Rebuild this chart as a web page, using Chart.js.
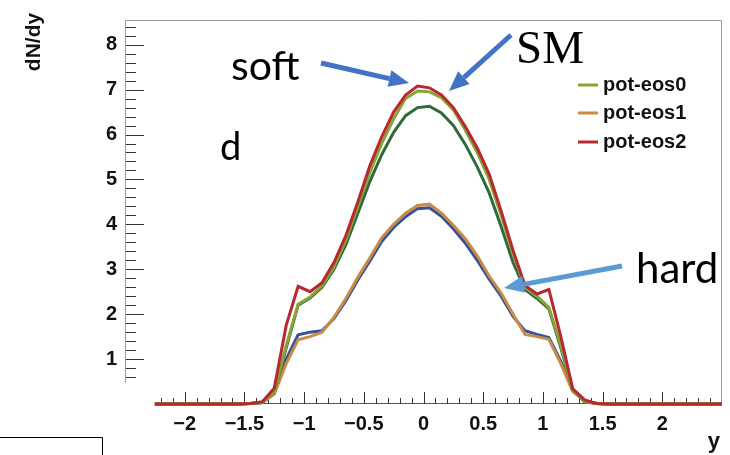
<!DOCTYPE html>
<html>
<head>
<meta charset="utf-8">
<script src="https://cdn.jsdelivr.net/npm/chart.js@4.4.1/dist/chart.umd.min.js"></script>
<style>
  html, body { margin: 0; padding: 0; background: #fff; }
  #dndy { display: block; }
</style>
</head>
<body>
<canvas id="dndy" width="730" height="455"></canvas>
<script>
// rapidity bin centres (ends pad the zero baseline)
const rapidity = [-2.25, -1.55, -1.45, -1.35, -1.25, -1.15, -1.05, -0.95, -0.85, -0.75, -0.65,
  -0.55, -0.45, -0.35, -0.25, -0.15, -0.05, 0.05, 0.15, 0.25, 0.35, 0.45, 0.55, 0.65, 0.75,
  0.85, 0.95, 1.05, 1.15, 1.25, 1.35, 1.45, 1.55, 2.5];

// dN/dy of deuterons per run
const potEos2 = [0, 0, 0.01, 0.05, 0.35, 1.75, 2.62, 2.5, 2.7, 3.15, 3.75, 4.5, 5.3, 5.95, 6.5,
  6.88, 7.08, 7.04, 6.88, 6.6, 6.18, 5.7, 5.12, 4.3, 3.42, 2.64, 2.45, 2.55, 1.5, 0.34, 0.09, 0.01, 0, 0];
const potEos0 = [0, 0, 0.01, 0.03, 0.25, 1.3, 2.22, 2.38, 2.63, 3.05, 3.65, 4.4, 5.15, 5.8, 6.35,
  6.8, 6.97, 6.95, 6.82, 6.55, 6.1, 5.6, 5.0, 4.2, 3.35, 2.6, 2.4, 2.15, 1.3, 0.3, 0.06, 0.01, 0, 0];
const potEosAlt = [0, 0, 0.01, 0.03, 0.25, 1.25, 2.2, 2.36, 2.6, 3.0, 3.55, 4.25, 4.95, 5.55, 6.05,
  6.42, 6.6, 6.63, 6.48, 6.2, 5.78, 5.28, 4.7, 3.95, 3.15, 2.55, 2.35, 2.12, 1.25, 0.3, 0.05, 0.01, 0, 0];
const potEos1 = [0, 0, 0.01, 0.03, 0.22, 0.9, 1.43, 1.5, 1.6, 1.93, 2.35, 2.82, 3.25, 3.7, 4.0,
  4.25, 4.42, 4.45, 4.25, 3.98, 3.68, 3.3, 2.85, 2.47, 2.0, 1.55, 1.5, 1.44, 0.9, 0.28, 0.07, 0.01, 0, 0];
const cascadeRef = [0, 0, 0.01, 0.03, 0.25, 1.0, 1.54, 1.6, 1.63, 1.9, 2.3, 2.76, 3.18, 3.62, 3.93,
  4.17, 4.35, 4.37, 4.18, 3.9, 3.58, 3.2, 2.78, 2.4, 1.95, 1.63, 1.55, 1.48, 0.95, 0.3, 0.07, 0.01, 0, 0];

const legendNames = ["pot-eos0", "pot-eos1", "pot-eos2"];

const RED = "#b8282f";
const OLIVE = "#88a436";
const DKGREEN = "#2f6a3c";
const ORANGE = "#c98b45";
const BLUE = "#33529a";

const pts = (ys) => rapidity.map((x, i) => ({ x: x, y: ys[i] }));

function series(label, ys, color) {
  return {
    label: label,
    data: pts(ys),
    borderColor: color,
    backgroundColor: color,
    borderWidth: 3,
    pointRadius: 0,
    tension: 0,
    fill: false,
    clip: false,
  };
}

function minus(v) {
  return String(v).replace("-", "\u2212");
}

// ROOT style frame: grey box, inward tick marks
const rootFrame = {
  id: "rootFrame",
  beforeDatasetsDraw(chart) {
    const { ctx, chartArea: a, scales } = chart;
    const x = scales.x, y = scales.y;
    ctx.save();
    ctx.lineWidth = 1;
    ctx.strokeStyle = "#9a9a9a";
    ctx.beginPath();
    ctx.moveTo(a.left + 0.5, y.getPixelForValue(0.47));
    ctx.lineTo(a.left + 0.5, a.top + 0.5);
    ctx.lineTo(a.right - 0.5, a.top + 0.5);
    ctx.lineTo(a.right - 0.5, a.bottom);
    ctx.stroke();

    ctx.strokeStyle = "#555";
    ctx.beginPath();
    ctx.moveTo(x.getPixelForValue(-2.25), a.bottom - 0.5);
    ctx.lineTo(a.right, a.bottom - 0.5);
    ctx.stroke();

    ctx.strokeStyle = "#333";
    ctx.beginPath();
    for (let i = -22; i <= 24; i++) {
      const px = Math.round(x.getPixelForValue(i / 10)) + 0.5;
      const len = i % 5 === 0 ? 12 : 6;
      ctx.moveTo(px, a.bottom);
      ctx.lineTo(px, a.bottom - len);
    }
    for (let i = 3; i <= 42; i++) {
      const py = Math.round(y.getPixelForValue(i / 5)) + 0.5;
      const len = i % 5 === 0 ? 18 : 10;
      ctx.moveTo(a.left + 1, py);
      ctx.lineTo(a.left + 1 + len, py);
    }
    ctx.stroke();
    ctx.restore();
  },
};

function arrow(ctx, x1, y1, x2, y2, color, w, headLen, headW) {
  const ang = Math.atan2(y2 - y1, x2 - x1);
  const bx = x2 - headLen * Math.cos(ang);
  const by = y2 - headLen * Math.sin(ang);
  ctx.save();
  ctx.strokeStyle = color;
  ctx.fillStyle = color;
  ctx.lineWidth = w;
  ctx.beginPath();
  ctx.moveTo(x1, y1);
  ctx.lineTo(bx, by);
  ctx.stroke();
  ctx.beginPath();
  ctx.moveTo(x2, y2);
  ctx.lineTo(bx + headW / 2 * Math.sin(ang), by - headW / 2 * Math.cos(ang));
  ctx.lineTo(bx - headW / 2 * Math.sin(ang), by + headW / 2 * Math.cos(ang));
  ctx.closePath();
  ctx.fill();
  ctx.restore();
}

// titles, legend, labels and arrows on top
const overlay = {
  id: "overlay",
  afterDraw(chart) {
    const { ctx, chartArea: a } = chart;
    ctx.save();

    // axis titles
    ctx.fillStyle = "#111";
    ctx.font = "bold 21px 'Liberation Sans', Arial, sans-serif";
    ctx.save();
    ctx.translate(40, 42);
    ctx.rotate(-Math.PI / 2);
    ctx.textAlign = "center";
    ctx.textBaseline = "alphabetic";
    ctx.fillText("dN/dy", 0, 0);
    ctx.restore();
    ctx.font = "bold 22px 'Liberation Sans', Arial, sans-serif";
    ctx.textAlign = "right";
    ctx.fillText("y", a.right - 2, 448);

    // legend
    const colors = { "pot-eos0": OLIVE, "pot-eos1": ORANGE, "pot-eos2": RED };
    const rows = [85, 113, 142];
    ctx.font = "bold 20px 'Liberation Sans', Arial, sans-serif";
    ctx.textAlign = "left";
    ctx.textBaseline = "middle";
    legendNames.forEach((name, i) => {
      ctx.strokeStyle = colors[name];
      ctx.lineWidth = 3;
      ctx.beginPath();
      ctx.moveTo(578, rows[i]);
      ctx.lineTo(598, rows[i]);
      ctx.stroke();
      ctx.fillStyle = "#111";
      ctx.fillText(name, 603, rows[i]);
    });

    // labels
    ctx.textBaseline = "alphabetic";
    ctx.fillStyle = "#000";
    ctx.font = "41px Lato, 'Open Sans', sans-serif";
    ctx.fillText("soft", 231, 80);
    ctx.font = "42px Lato, 'Open Sans', sans-serif";
    ctx.fillText("hard", 636, 283);
    ctx.font = "38px Lato, 'Open Sans', sans-serif";
    ctx.fillText("d", 220, 160);
    ctx.font = "47px 'Liberation Serif', 'Times New Roman', serif";
    ctx.fillText("SM", 516, 63);

    // arrows
    arrow(ctx, 321, 63, 409, 83, "#4472c4", 5, 20, 17);
    arrow(ctx, 511, 35, 449, 91, "#4472c4", 5, 20, 17);
    arrow(ctx, 622, 266, 504, 288, "#5b9bd5", 5, 20, 17);

    // corner box
    ctx.strokeStyle = "#000";
    ctx.lineWidth = 1;
    ctx.beginPath();
    ctx.moveTo(0, 437.5);
    ctx.lineTo(102.5, 437.5);
    ctx.lineTo(102.5, 455);
    ctx.stroke();

    ctx.restore();
  },
};

new Chart(document.getElementById("dndy"), {
  type: "line",
  data: {
    datasets: [
      series("pot-eos2", potEos2, RED),
      series("pot-eos0", potEos0, OLIVE),
      series("pot-eos0b", potEosAlt, DKGREEN),
      series("pot-eos1", potEos1, ORANGE),
      series("pot-eos1b", cascadeRef, BLUE),
    ],
  },
  options: {
    responsive: false,
    animation: false,
    devicePixelRatio: 1,
    layout: { padding: { left: 0, right: 3, top: 5, bottom: 0 } },
    plugins: { legend: { display: false }, tooltip: { enabled: false } },
    scales: {
      x: {
        type: "linear",
        min: -2.5,
        max: 2.5,
        grid: { display: false, drawTicks: false },
        border: { display: false },
        ticks: {
          stepSize: 0.5,
          padding: 8,
          color: "#111",
          font: { family: "'Liberation Sans', Arial, sans-serif", size: 20, weight: "bold" },
          maxRotation: 0,
          autoSkip: false,
          callback: (v) => (Math.abs(v) > 2.25 ? "" : minus(v)),
        },
        afterFit: (s) => { s.height = 51; },
      },
      y: {
        min: 0,
        max: 8.55,
        grid: { display: false, drawTicks: false },
        border: { display: false },
        ticks: {
          stepSize: 1,
          padding: 8,
          color: "#111",
          font: { family: "'Liberation Sans', Arial, sans-serif", size: 20, weight: "bold" },
          callback: (v) => (v === 0 || v % 1 !== 0 ? "" : String(v)),
        },
        afterFit: (s) => { s.width = 125; },
      },
    },
  },
  plugins: [rootFrame, overlay],
});
</script>
</body>
</html>
